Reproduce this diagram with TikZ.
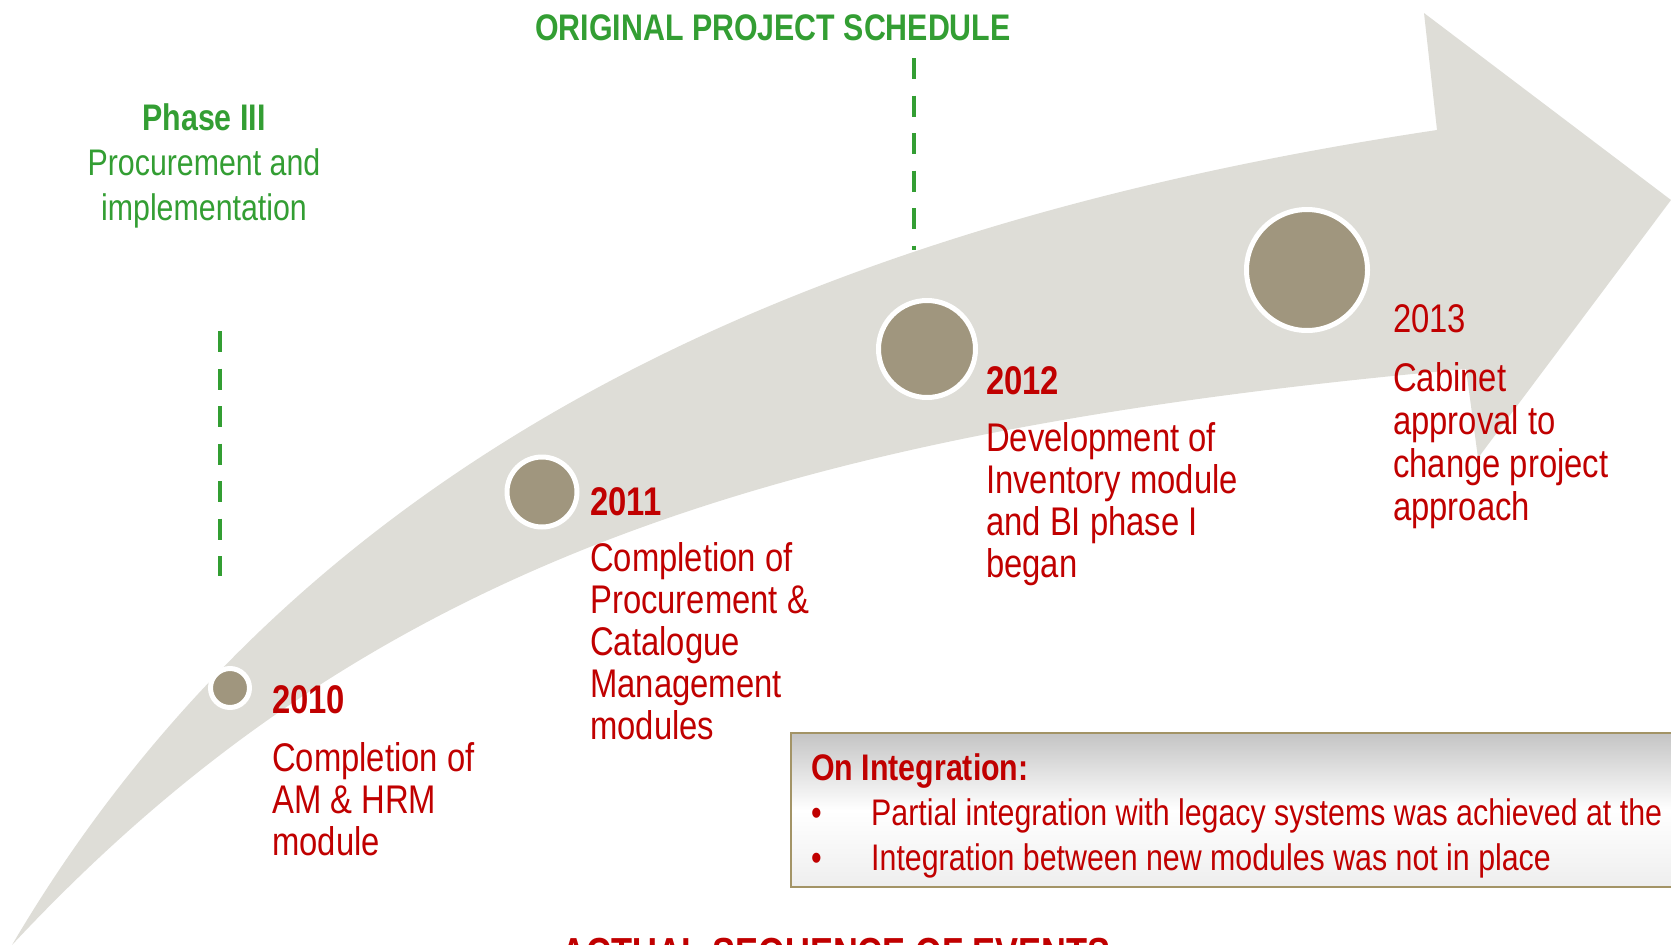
\documentclass[tikz,border=0pt]{standalone}
\usepackage{fontspec}
\setmainfont{Liberation Sans}[FakeStretch=0.82]
\usetikzlibrary{positioning}

\definecolor{schedgreen}{RGB}{51,158,51}
\definecolor{eventred}{RGB}{192,0,0}
\definecolor{bandgrey}{RGB}{222,221,215}
\definecolor{dotbrown}{RGB}{160,150,126}
\definecolor{boxedge}{RGB}{163,148,102}
\definecolor{boxtop}{RGB}{196,196,196}
\definecolor{boxbottom}{RGB}{238,238,238}

\begin{document}
\begin{tikzpicture}[x=1pt, y=-1pt,
            milestone/.style={circle, fill=dotbrown, draw=white, line width=5pt, inner sep=0pt},
            year label/.style={anchor=base west, inner sep=0pt, text=eventred, font=\fontsize{40}{42}\selectfont\bfseries},
            event text/.style={anchor=base west, inner sep=0pt, align=left, text=eventred, font=\fontsize{40}{42}\selectfont},
            box text/.style={anchor=base west, inner sep=0pt, text=eventred, font=\fontsize{37}{40}\selectfont},
            plan line/.style={schedgreen, line width=4pt, dash pattern=on 21pt off 16.5pt},
            every node/.style={align=center}
    ]
        \useasboundingbox (0,0) rectangle (1671,945);
        \clip (0,0) rectangle (1671,945);

        % Timeline arrow
        \fill[bandgrey] (12,945) .. controls (312,435) and (837,220) .. (1437,130)
            -- (1424,13) -- (1671,200) -- (1478,458) -- (1466,369)
            .. controls (766,432) and (362,570) .. (12,945) -- cycle;

        % Original schedule
        \node[anchor=base, text=schedgreen, font=\fontsize{37}{40}\selectfont\bfseries] (schedule) at (773,40) {ORIGINAL PROJECT SCHEDULE};
        \node[anchor=base, text=schedgreen, font=\fontsize{37}{45}\selectfont] (phase) at (204,220) {\textbf{Phase III}\\Procurement and\\implementation};

        \coordinate (sched_top) at (914,58);
        \coordinate (sched_end) at (914,250);
        \coordinate (phase_top) at (220,331);
        \coordinate (phase_end) at (220,576);
        \draw[plan line] (sched_top) -- (sched_end);
        \draw[plan line] (phase_top) -- (phase_end);

        % Milestones
        \node[milestone, minimum size=39pt] (dot_2010) at (230,688) {};
        \node[milestone, minimum size=70pt] (dot_2011) at (542,492) {};
        \node[milestone, minimum size=97pt] (dot_2012) at (927,349) {};
        \node[milestone, minimum size=121pt] (dot_2013) at (1307,270) {};

        % Years
        \node[year label] (year_2010) at (272,713) {2010};
        \node[year label] (year_2011) at (590,515) {2011};
        \node[year label] (year_2012) at (986,394) {2012};
        \node[year label, font=\fontsize{40}{42}\selectfont] (year_2013) at (1393,332) {2013};

        % Events (anchored on the last line)
        \node[event text] (ev_2010) at (272,855) {Completion of\\AM \& HRM\\module};
        \node[event text] (ev_2011) at (590,739) {Completion of\\Procurement \&\\Catalogue\\Management\\modules};
        \node[event text] (ev_2012) at (986,577) {Development of\\Inventory module\\and BI phase I\\began};
        \node[event text, font=\fontsize{40}{43}\selectfont] (ev_2013) at (1393,520) {Cabinet\\approval to\\change project\\approach};

        % Integration box
        \draw[boxedge, line width=2.5pt, top color=boxtop, bottom color=boxbottom, middle color=white] (791,733) rectangle (1700,887);
        \node[box text, font=\fontsize{37}{40}\selectfont\bfseries] (integ) at (811,780) {On Integration:};
        \node[box text] (bul_1) at (811,825) {•};
        \node[box text] (pt_1) at (871,825) {Partial integration with legacy systems was achieved at the};
        \node[box text] (bul_2) at (811,870) {•};
        \node[box text] (pt_2) at (871,870) {Integration between new modules was not in place};

        % Actual sequence
        \node[anchor=base, text=eventred, font=\fontsize{42}{44}\selectfont\bfseries] (actual) at (836,967) {ACTUAL SEQUENCE OF EVENTS};

    \end{tikzpicture}
\end{document}
